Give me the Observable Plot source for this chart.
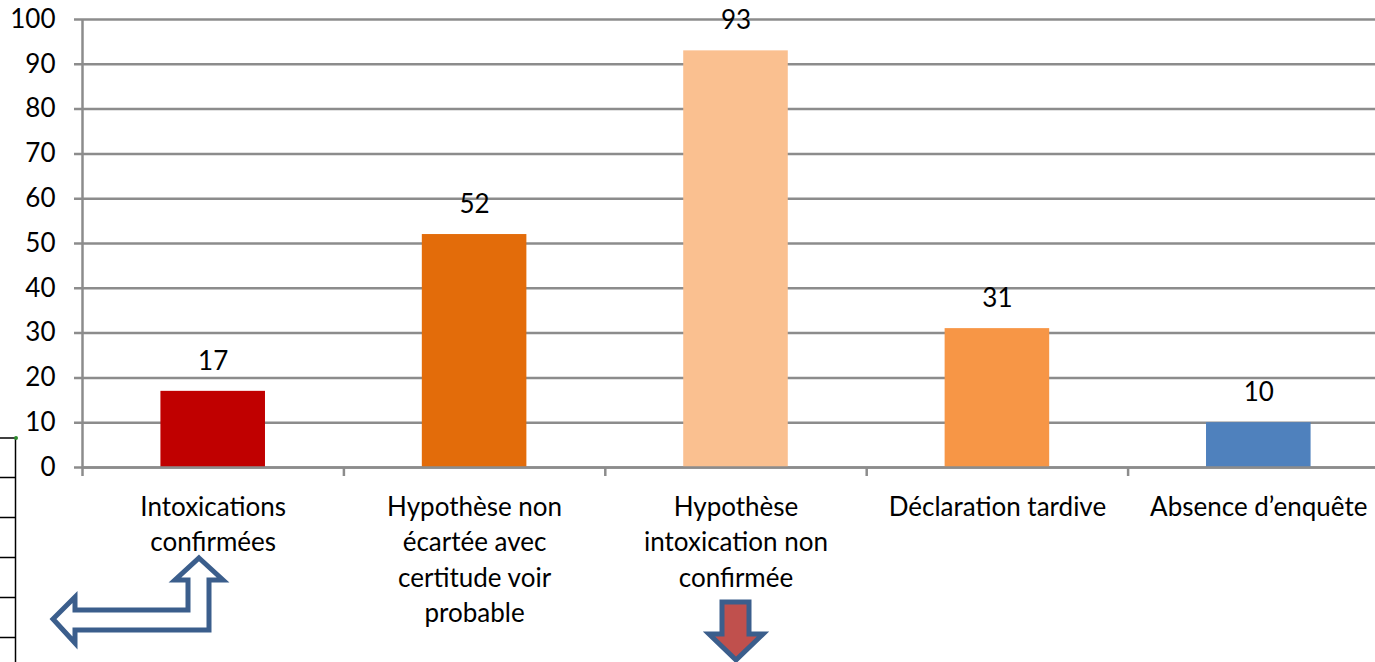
<!DOCTYPE html>
<html>
<head>
<meta charset="utf-8">
<script src="https://cdn.jsdelivr.net/npm/d3@7"></script>
<script src="https://cdn.jsdelivr.net/npm/@observablehq/plot@0.6"></script>
<style>
  html, body { margin: 0; padding: 0; background: #fff; overflow: hidden; }
  #wrap { position: relative; width: 1375px; height: 662px; overflow: hidden; }
  #chart svg { max-width: none !important; width: 1400px !important; height: 662px !important; display: block; }
  #deco { position: absolute; left: 0; top: 0; pointer-events: none; }
</style>
</head>
<body>
<div id="wrap">
  <div id="chart"></div>
  <svg id="deco" width="1375" height="662" xmlns="http://www.w3.org/2000/svg">
    <g stroke="#000" stroke-width="1.5">
      <line x1="15.5" y1="437" x2="15.5" y2="662"/>
      <line x1="0" y1="438" x2="15.5" y2="438"/>
      <line x1="0" y1="477.5" x2="15.5" y2="477.5"/>
      <line x1="0" y1="517.5" x2="15.5" y2="517.5"/>
      <line x1="0" y1="557.5" x2="15.5" y2="557.5"/>
      <line x1="0" y1="597.5" x2="15.5" y2="597.5"/>
      <line x1="0" y1="637.5" x2="15.5" y2="637.5"/>
    </g>
    <circle cx="16" cy="438" r="2" fill="#2e8b2e"/>
    <polygon points="199,558 223,580 209,580 209,630 75,630 75,643 53,619 75,597 75,610 188,610 188,580 175,580"
      fill="#fff" stroke="#3b5e8c" stroke-width="5" stroke-linejoin="miter"/>
    <polygon points="722,602 749,602 749,634 763,634 736,660 709,634 722,634"
      fill="#c0504d" stroke="#3b5e8c" stroke-width="5" stroke-linejoin="miter"/>
  </svg>
</div>
<script>
const categories = [
  "Intoxications\nconfirmées",
  "Hypothèse non\nécartée avec\ncertitude voir\nprobable",
  "Hypothèse\nintoxication non\nconfirmée",
  "Déclaration tardive",
  "Absence d’enquête"
];
const values = [17, 52, 93, 31, 10];
const colors = ["#c00000", "#e36c0a", "#fac090", "#f79646", "#4f81bd"];
const yTicks = [0, 10, 20, 30, 40, 50, 60, 70, 80, 90, 100];

const data = categories.map((c, i) => ({ i, label: c, value: values[i], color: colors[i] }));
const boundaries = d3.range(categories.length + 1);

const font = "Lato, 'Open Sans', sans-serif";
const gray = "#8c8c8c";
const fs = 26;

const chart = Plot.plot({
  width: 1400,
  height: 662,
  marginLeft: 82,
  marginRight: 11,
  marginTop: 19,
  marginBottom: 195,
  style: { fontFamily: font, fontSize: fs + "px", color: "#000", background: "transparent" },
  x: { type: "linear", domain: [0, categories.length] },
  y: { domain: [0, 100], label: null },
  marks: [
    Plot.ruleY(yTicks, { stroke: gray, strokeWidth: 2.5, x1: 0, x2: categories.length, insetLeft: -8 }),
    Plot.axisY({ ticks: yTicks, tickSize: 0, tickPadding: 27, fontSize: fs, fill: "#000", label: null }),
    Plot.rectY(data, {
      x1: d => d.i + 0.3,
      x2: d => d.i + 0.7,
      y1: 0,
      y2: "value",
      fill: "color"
    }),
    Plot.ruleX([0], { stroke: gray, strokeWidth: 2.5, y1: 0, y2: 100 }),
    Plot.ruleY([0], { stroke: gray, strokeWidth: 2.5 }),
    Plot.axisX({ ticks: boundaries, tickFormat: () => "", tickSize: 9, stroke: gray, strokeWidth: 2.5, label: null }),
    Plot.text(data, {
      x: d => d.i + 0.5,
      y: "value",
      text: d => String(d.value),
      dy: -30,
      fontSize: fs,
      fill: "#000"
    }),
    Plot.text(data, {
      x: d => d.i + 0.5,
      y: 0,
      text: "label",
      lineAnchor: "top",
      dy: 23,
      lineHeight: 35.5 / fs,
      fontSize: fs,
      fill: "#000"
    })
  ]
});
document.getElementById("chart").appendChild(chart);
</script>
</body>
</html>
